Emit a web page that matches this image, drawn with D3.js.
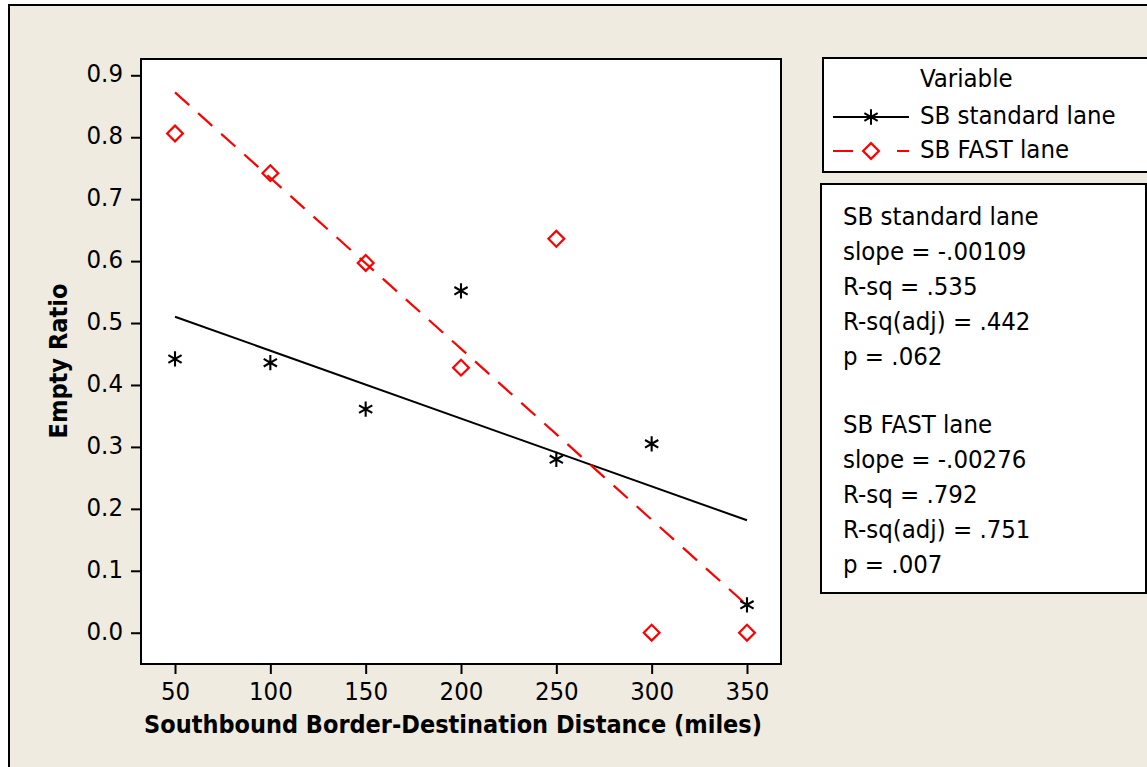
<!DOCTYPE html>
<html>
<head>
<meta charset="utf-8">
<script src="https://cdn.jsdelivr.net/npm/d3@7"></script>
<style>
  body { margin: 0; background: #ffffff; }
  svg { display: block; }
</style>
</head>
<body>
<div id="chart"></div>
<script>
// data
var distances = [50, 100, 150, 200, 250, 300, 350];
var standardLane = [0.442, 0.436, 0.361, 0.552, 0.280, 0.305, 0.045];
var fastLane = [0.806, 0.742, 0.597, 0.428, 0.636, 0.0, 0.0];
var xTicks = [50, 100, 150, 200, 250, 300, 350];
var yTicks = [0.0, 0.1, 0.2, 0.3, 0.4, 0.5, 0.6, 0.7, 0.8, 0.9];
var seriesNames = ["SB standard lane", "SB FAST lane"];
var statsStandard = ["SB standard lane", "slope = -.00109", "R-sq = .535", "R-sq(adj) = .442", "p = .062"];
var statsFast = ["SB FAST lane", "slope = -.00276", "R-sq = .792", "R-sq(adj) = .751", "p = .007"];

var FONT = "'DejaVu Sans Condensed', 'Noto Sans', sans-serif";
var W = 1147, H = 767;
var plot = { left: 141, top: 59, right: 781, bottom: 664 };

var svg = d3.select("#chart").append("svg")
  .attr("width", W)
  .attr("height", H)
  .style("font-family", FONT);

// outer frame (cropped at right / bottom)
svg.append("rect")
  .attr("x", 9).attr("y", 5)
  .attr("width", W + 20).attr("height", H + 20)
  .attr("fill", "#efebe1")
  .attr("stroke", "#000").attr("stroke-width", 2);

// plot background
svg.append("rect")
  .attr("x", plot.left).attr("y", plot.top)
  .attr("width", plot.right - plot.left).attr("height", plot.bottom - plot.top)
  .attr("fill", "#fff");

var x = d3.scaleLinear().domain([32.16, 367.84]).range([plot.left, plot.right]);
var y = d3.scaleLinear().domain([-0.0505, 0.9263]).range([plot.bottom, plot.top]);

// least squares fit, as the chart does
function fit(xs, ys) {
  var mx = d3.mean(xs), my = d3.mean(ys);
  var sxy = d3.sum(xs, function (d, i) { return (d - mx) * (ys[i] - my); });
  var sxx = d3.sum(xs, function (d) { return (d - mx) * (d - mx); });
  var b = sxy / sxx;
  return function (v) { return my + b * (v - mx); };
}

var fitStd = fit(distances, standardLane);
var fitFast = fit(distances, fastLane);
var xEnds = d3.extent(distances);

var line = d3.line()
  .x(function (d) { return x(d[0]); })
  .y(function (d) { return y(d[1]); });

svg.append("path")
  .datum(xEnds.map(function (v) { return [v, fitStd(v)]; }))
  .attr("d", line)
  .attr("fill", "none")
  .attr("stroke", "#000")
  .attr("stroke-width", 2);

svg.append("path")
  .datum(xEnds.map(function (v) { return [v, fitFast(v)]; }))
  .attr("d", line)
  .attr("fill", "none")
  .attr("stroke", "#ff0000")
  .attr("stroke-width", 2.2)
  .attr("stroke-dasharray", "19,12");

var asterisk = d3.symbol().type(d3.symbolAsterisk).size(165);
var diamond = d3.symbol().type(d3.symbolSquare).size(125);

svg.selectAll(".std")
  .data(distances)
  .enter().append("path")
  .attr("class", "std")
  .attr("d", asterisk)
  .attr("transform", function (d, i) { return "translate(" + x(d) + "," + y(standardLane[i]) + ")"; })
  .attr("fill", "none")
  .attr("stroke", "#000")
  .attr("stroke-width", 2.1);

svg.selectAll(".fast")
  .data(distances)
  .enter().append("path")
  .attr("class", "fast")
  .attr("d", diamond)
  .attr("transform", function (d, i) { return "translate(" + x(d) + "," + y(fastLane[i]) + ") rotate(45)"; })
  .attr("fill", "none")
  .attr("stroke", "#ff0000")
  .attr("stroke-width", 2.2);

// plot frame
svg.append("rect")
  .attr("x", plot.left).attr("y", plot.top)
  .attr("width", plot.right - plot.left).attr("height", plot.bottom - plot.top)
  .attr("fill", "none")
  .attr("stroke", "#000").attr("stroke-width", 2);

// axes
var xAxis = svg.append("g")
  .attr("transform", "translate(0," + plot.bottom + ")")
  .call(d3.axisBottom(x).tickValues(xTicks).tickSize(10).tickSizeOuter(0).tickFormat(d3.format("d")));
var yAxis = svg.append("g")
  .attr("transform", "translate(" + plot.left + ",0)")
  .call(d3.axisLeft(y).tickValues(yTicks).tickSize(10).tickSizeOuter(0).tickFormat(d3.format(".1f")));

[xAxis, yAxis].forEach(function (g) {
  g.select(".domain").remove();
  g.selectAll(".tick line").attr("stroke", "#000").attr("stroke-width", 2);
  g.selectAll(".tick text")
    .attr("fill", "#000")
    .style("font-family", FONT)
    .style("font-size", "25.5px");
});
xAxis.selectAll(".tick text").attr("y", 36).attr("dy", null);
yAxis.selectAll(".tick text").attr("x", -18).attr("dy", null).attr("y", 6.5);

// axis titles
svg.append("text")
  .attr("x", 453).attr("y", 733)
  .attr("text-anchor", "middle")
  .attr("textLength", 618)
  .attr("lengthAdjust", "spacingAndGlyphs")
  .style("font-size", "25px")
  .style("font-weight", "bold")
  .text("Southbound Border-Destination Distance (miles)");

svg.append("text")
  .attr("transform", "translate(67,361) rotate(-90)")
  .attr("text-anchor", "middle")
  .attr("textLength", 155)
  .attr("lengthAdjust", "spacingAndGlyphs")
  .style("font-size", "25px")
  .style("font-weight", "bold")
  .text("Empty Ratio");

// legend
var legend = svg.append("g");
legend.append("rect")
  .attr("x", 823).attr("y", 58)
  .attr("width", 340).attr("height", 114)
  .attr("fill", "#fff")
  .attr("stroke", "#000").attr("stroke-width", 2);
legend.append("text")
  .attr("x", 920).attr("y", 87)
  .style("font-size", "25.5px")
  .text("Variable");

var legendRows = [
  { name: seriesNames[0], y: 117, color: "#000", dash: null, sym: asterisk, rot: "", sw: 2 },
  { name: seriesNames[1], y: 151, color: "#ff0000", dash: "20,44", sym: diamond, rot: " rotate(45)", sw: 2.2 }
];
legendRows.forEach(function (r) {
  legend.append("line")
    .attr("x1", 833).attr("x2", 909)
    .attr("y1", r.y).attr("y2", r.y)
    .attr("stroke", r.color)
    .attr("stroke-width", 2)
    .attr("stroke-dasharray", r.dash);
  legend.append("path")
    .attr("d", r.sym)
    .attr("transform", "translate(871," + r.y + ")" + r.rot)
    .attr("fill", "none")
    .attr("stroke", r.color)
    .attr("stroke-width", r.sw);
  legend.append("text")
    .attr("x", 920).attr("y", r.y + 6.5)
    .style("font-size", "25.5px")
    .text(r.name);
});

// regression stats box
var stats = svg.append("g");
stats.append("rect")
  .attr("x", 821).attr("y", 184)
  .attr("width", 325).attr("height", 409)
  .attr("fill", "#fff")
  .attr("stroke", "#000").attr("stroke-width", 2);

stats.selectAll(".s1")
  .data(statsStandard)
  .enter().append("text")
  .attr("x", 843)
  .attr("y", function (d, i) { return 225 + i * 35; })
  .style("font-size", "25.5px")
  .text(function (d) { return d; });

stats.selectAll(".s2")
  .data(statsFast)
  .enter().append("text")
  .attr("x", 843)
  .attr("y", function (d, i) { return 433 + i * 35; })
  .style("font-size", "25.5px")
  .text(function (d) { return d; });
</script>
</body>
</html>
